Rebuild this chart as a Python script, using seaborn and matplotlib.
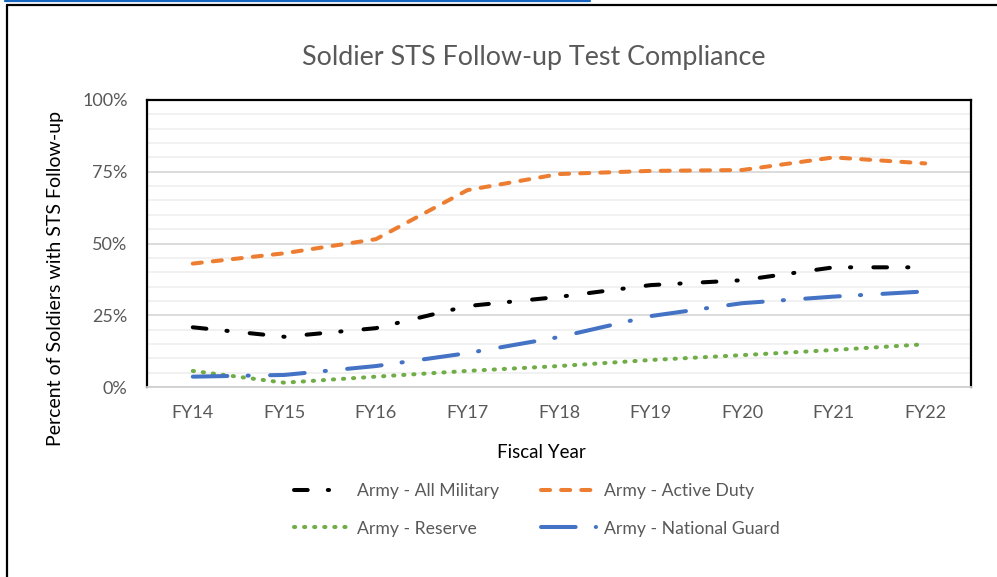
import matplotlib
matplotlib.use("Agg")
import matplotlib.pyplot as plt
import matplotlib.lines as mlines
import matplotlib.ticker as mticker
import seaborn as sns
import pandas as pd

# ---- data ----
years = ["FY14", "FY15", "FY16", "FY17", "FY18", "FY19", "FY20", "FY21", "FY22"]
all_military = [20.8, 17.5, 20.5, 28.2, 31.4, 35.5, 37.2, 41.7, 41.7]
active_duty = [43.0, 46.6, 51.5, 68.6, 74.2, 75.3, 75.6, 80.0, 77.9]
reserve = [5.6, 1.5, 3.6, 5.6, 7.3, 9.4, 11.1, 12.9, 14.9]
national_guard = [3.6, 4.2, 7.3, 11.8, 17.4, 24.7, 29.2, 31.5, 33.3]
series_names = ["Army - All Military", "Army - Active Duty", "Army - Reserve", "Army - National Guard"]
y_ticks = [0, 25, 50, 75, 100]

sns.set_theme(style="white")
plt.rcParams["font.family"] = ["Lato", "DejaVu Sans"]

fig = plt.figure(figsize=(9.97, 5.77), dpi=100)
ax = fig.add_axes([147 / 997, 1 - 387 / 577, (971 - 147) / 997, (387 - 100) / 577])

values = [all_military, active_duty, reserve, national_guard]
colors = ["#000000", "#ED7D31", "#70AD47", "#4472C4"]
LW = 2.9
dash_patterns = [
    (0, (3.4, 5.0, 0.3, 5.5)),
    (0, (2.25, 2.75)),
    (0, (0.3, 2.2)),
    (0, (8.6, 5.0, 0.3, 5.3)),
]

handles = {}
for name, vals, col, dp in zip(series_names, values, colors, dash_patterns):
    df = pd.DataFrame({"Fiscal Year": years, "pct": vals})
    sns.lineplot(data=df, x="Fiscal Year", y="pct", ax=ax, color=col, linewidth=LW,
                 label=name, sort=False, zorder=3)
    ln = ax.lines[-1]
    ln.set_linestyle(dp)
    ln.set_dash_capstyle("round")
    ln.set_solid_capstyle("round")
    handles[name] = ln

ax.set_xlim(-0.5, len(years) - 0.5)
ax.set_ylim(0, 100)
ax.set_yticks(y_ticks)
ax.yaxis.set_major_formatter(mticker.FuncFormatter(lambda v, p: f"{int(v)}%"))
ax.yaxis.set_minor_locator(mticker.MultipleLocator(5))
ax.grid(which="minor", axis="y", color="#f0f0f0", linewidth=1.3, zorder=0)
ax.grid(which="major", axis="y", color="#d9d9d9", linewidth=1.3, zorder=0)
ax.grid(False, axis="x")
ax.set_axisbelow(True)

for s in ["left", "top", "right"]:
    ax.spines[s].set_color("black")
    ax.spines[s].set_linewidth(1.6)
ax.spines["bottom"].set_color("#d0d0d0")
ax.spines["bottom"].set_linewidth(1.3)

ax.tick_params(axis="both", which="both", length=0, labelsize=13, labelcolor="#595959")
ax.tick_params(axis="y", pad=14)
ax.tick_params(axis="x", pad=13)

ax.set_xlabel("Fiscal Year", fontsize=13.5, color="black", va="center", ha="center")
ax.xaxis.set_label_coords(541 / 997, 1 - 452 / 577, transform=fig.transFigure)
ax.set_ylabel("Percent of Soldiers with STS Follow-up", fontsize=14, color="black",
              va="center", ha="center")
ax.yaxis.set_label_coords(55 / 997, 1 - 278 / 577, transform=fig.transFigure)

fig.text(534 / 997, 1 - 58 / 577, "Soldier STS Follow-up Test Compliance",
         ha="center", va="center", fontsize=19.4, color="#595959")

order = ["Army - All Military", "Army - Reserve", "Army - Active Duty", "Army - National Guard"]
leg = ax.legend([handles[n] for n in order], order, loc="center",
                bbox_to_anchor=(537 / 997, 1 - 510 / 577),
                bbox_transform=fig.transFigure, ncol=2, frameon=False,
                fontsize=12.7, handlelength=3.1, handletextpad=0.45,
                columnspacing=2.4, labelspacing=1.2)
for t in leg.get_texts():
    t.set_color("#595959")

# frame decorations of the screenshot
fig.add_artist(mlines.Line2D([7 / 997, 7 / 997], [0, 1 - 5 / 577], transform=fig.transFigure,
                             color="black", linewidth=1.6))
fig.add_artist(mlines.Line2D([7 / 997, 1], [1 - 5 / 577, 1 - 5 / 577], transform=fig.transFigure,
                             color="black", linewidth=1.6))
fig.add_artist(mlines.Line2D([5 / 997, 590 / 997], [1 - 1 / 577, 1 - 1 / 577], transform=fig.transFigure,
                             color="#1565C0", linewidth=1.6))

fig.savefig("out.png", dpi=100)
